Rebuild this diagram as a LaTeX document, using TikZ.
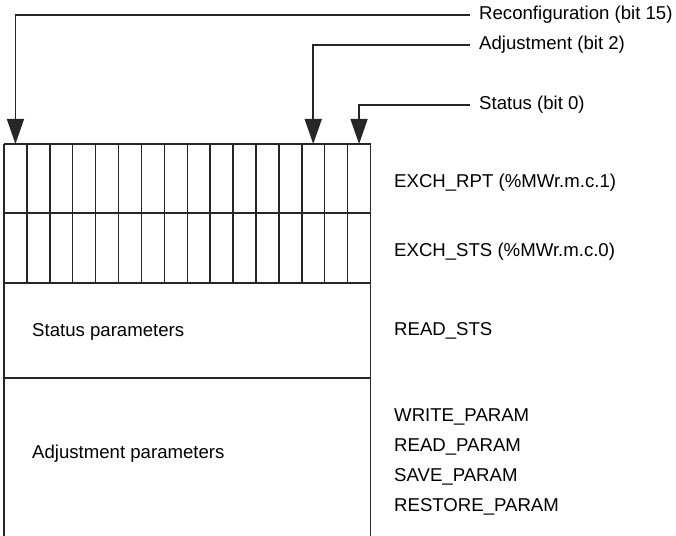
\documentclass[tikz,border=0pt]{standalone}
\usepackage{fontspec}
\setmainfont{Liberation Sans}
\usetikzlibrary{arrows.meta}
\begin{document}
\begin{tikzpicture}[x=1bp,y=-1bp,
  every node/.style={font=\fontsize{18.6bp}{22bp}\selectfont, inner sep=0pt, text=black},
  frame/.style={line width=1.5bp, draw=black!85},
  pointer/.style={line width=1.5bp, draw=black!85, shorten <=9bp,
    -{Triangle[length=25bp,width=17bp]}}]
\useasboundingbox (0,0) rectangle (676,536);
% bit rows
\def\L{4}\def\R{370.5}
\foreach \i in {0,...,16} {
  \draw[frame] ({\L+\i*(\R-\L)/16},144) -- ({\L+\i*(\R-\L)/16},283);
}
\foreach \i in {0,...,15} {
  \coordinate (c\i) at ({\L+(\i+0.5)*(\R-\L)/16},144);
}
\draw[frame] (\L,144) -- (\R,144);
\draw[frame] (\L,213) -- (\R,213);
\draw[frame] (\L,283) -- (\R,283);
\draw[frame] (\L,378) -- (\R,378);
\draw[frame] (\L,283) -- (\L,536);
\draw[frame] (\R,283) -- (\R,536);
% left texts
\node[anchor=west] (sp) at (32,332) {Status parameters};
\node[anchor=west] (ap) at (32,454) {Adjustment parameters};
% right texts
\node[anchor=west] (rpt) at (394,183) {EXCH\_RPT (\%MWr.m.c.1)};
\node[anchor=west] (sts) at (394,252) {EXCH\_STS (\%MWr.m.c.0)};
\node[anchor=west] (rsts) at (394,331) {READ\_STS};
\node[anchor=west] (wp) at (394,417) {WRITE\_PARAM};
\node[anchor=west] (rp) at (394,447) {READ\_PARAM};
\node[anchor=west] (svp) at (394,477) {SAVE\_PARAM};
\node[anchor=west] (rsp) at (394,507) {RESTORE\_PARAM};
% top labels
\node[anchor=west] (lrec) at (479,15) {Reconfiguration (bit 15)};
\node[anchor=west] (ladj) at (479,45) {Adjustment (bit 2)};
\node[anchor=west] (lsta) at (479,105) {Status (bit 0)};
\draw[pointer] (lrec.west) -| (c0);
\draw[pointer] (ladj.west) -| (c13);
\draw[pointer] (lsta.west) -| (c15);
\end{tikzpicture}
\end{document}
